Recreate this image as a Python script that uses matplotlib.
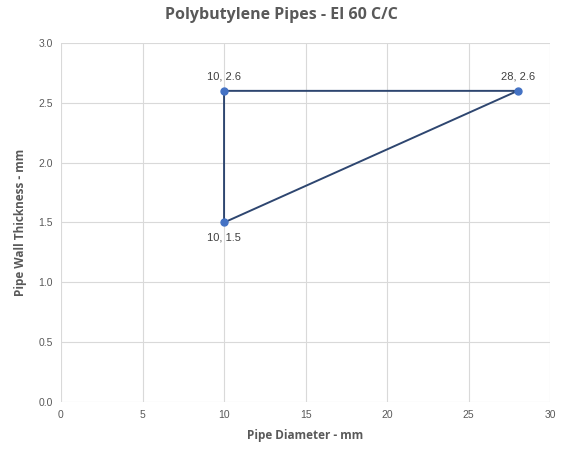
import matplotlib.pyplot as plt

# Triangle path (closed): pipe diameter vs wall thickness
diameters = [10, 28, 10, 10]
thickness = [2.6, 2.6, 1.5, 2.6]

# Points labelled on the chart and where the label goes
label_x = [10, 28, 10]
label_y = [2.6, 2.6, 1.5]
label_pos = ["above", "above", "below"]

x_ticks = [0, 5, 10, 15, 20, 25, 30]
y_ticks = [0.0, 0.5, 1.0, 1.5, 2.0, 2.5, 3.0]

grey = "#595959"

fig = plt.figure(figsize=(5.75, 4.53), dpi=100)
ax = fig.add_axes([0.106, 0.1126, 0.851, 0.7925])

ax.plot(diameters, thickness, color="#2E4670", linewidth=1.4, zorder=3)
ax.plot(label_x, label_y, "o", color="#4472C4", markersize=5, zorder=4)

for x, y, pos in zip(label_x, label_y, label_pos):
    off = 7 if pos == "above" else -7
    ax.annotate(f"{x}, {y}", (x, y), xytext=(0, off), textcoords="offset points",
                ha="center", va="bottom" if pos == "above" else "top",
                fontsize=8, color="#404040", family="Liberation Sans")

# --- Formatting ---
ax.set_xlim(0, 30)
ax.set_ylim(0, 3.0)
ax.set_xticks(x_ticks)
ax.set_yticks(y_ticks)
ax.set_yticklabels([f"{v:.1f}" for v in y_ticks])
ax.grid(True, color="#D9D9D9", linewidth=0.8)
ax.set_axisbelow(True)
for s in ax.spines.values():
    s.set_visible(False)
ax.tick_params(length=0, labelsize=7.5, labelcolor=grey, pad=6)
for lab in ax.get_xticklabels() + ax.get_yticklabels():
    lab.set_family("Liberation Sans")

ax.set_xlabel("Pipe Diameter - mm", fontsize=8.5, fontweight="bold", color=grey,
              family="Open Sans", labelpad=6)
ax.set_ylabel("Pipe Wall Thickness - mm", fontsize=8.5, fontweight="bold", color=grey,
              family="Open Sans", labelpad=8)
fig.suptitle("Polybutylene Pipes - EI 60 C/C", x=0.49, y=0.985, fontsize=11.5,
             fontweight="bold", color=grey, family="Open Sans")

plt.savefig("out.png")
